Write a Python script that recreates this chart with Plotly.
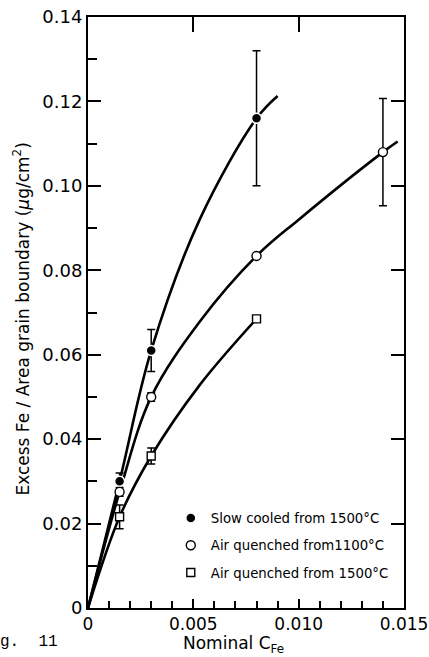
import plotly.graph_objects as go

# ---- data ----
x_pts = [0.0015, 0.003, 0.008]
slow_y = [0.030, 0.061, 0.116]
slow_err = [0.002, 0.005, 0.016]

aq1100_x = [0.0015, 0.003, 0.008, 0.014]
aq1100_y = [0.0275, 0.050, 0.0834, 0.108]
aq1100_err = [0.001, 0.001, 0.0, 0.0127]

aq1500_y = [0.0216, 0.036, 0.0685]
aq1500_err = [0.0028, 0.0019, 0.0]

# fitted curves drawn in the figure
slow_curve_x = [0, 0.0015, 0.003, 0.0053, 0.008, 0.009]
slow_curve_y = [0, 0.030, 0.061, 0.092, 0.116, 0.1213]
aq1100_curve_x = [0, 0.0015, 0.003, 0.0053, 0.008, 0.010, 0.014, 0.0147]
aq1100_curve_y = [0, 0.0275, 0.050, 0.0678, 0.0834, 0.092, 0.108, 0.1105]
aq1500_curve_x = [0, 0.0015, 0.003, 0.0053, 0.008]
aq1500_curve_y = [0, 0.0216, 0.036, 0.0528, 0.0685]

x_tickvals = [0, 0.005, 0.010, 0.015]
x_ticktext = ["0", "0.005", "0.010", "0.015"]
y_tickvals = [0, 0.02, 0.04, 0.06, 0.08, 0.10, 0.12, 0.14]
y_ticktext = ["0", "0.02", "0.04", "0.06", "0.08", "0.10", "0.12", "0.14"]

labels = ["Slow cooled from 1500°C", "Air quenched from1100°C", "Air quenched from 1500°C"]

FONT = "DejaVu Sans"
fig = go.Figure()

for cx, cy in [(slow_curve_x, slow_curve_y), (aq1100_curve_x, aq1100_curve_y), (aq1500_curve_x, aq1500_curve_y)]:
    fig.add_trace(go.Scatter(x=cx, y=cy, mode="lines", line=dict(color="black", width=2.6, shape="spline", smoothing=1.0),
                             showlegend=False, hoverinfo="skip"))

err_style = dict(type="data", color="black", thickness=1.5, width=4)

fig.add_trace(go.Scatter(x=x_pts, y=slow_y, mode="markers", name=labels[0], legendgroup="a",
                         error_y=dict(array=slow_err, **err_style),
                         marker=dict(symbol="circle", size=10, color="black", line=dict(color="white", width=1.5))))
fig.add_trace(go.Scatter(x=aq1100_x, y=aq1100_y, mode="markers", name=labels[1], legendgroup="b",
                         error_y=dict(array=aq1100_err, **err_style),
                         marker=dict(symbol="circle", size=9, color="white", line=dict(color="black", width=1.4))))
fig.add_trace(go.Scatter(x=x_pts, y=aq1500_y, mode="markers", name=labels[2], legendgroup="c",
                         error_y=dict(array=aq1500_err, **err_style),
                         marker=dict(symbol="square", size=8, color="white", line=dict(color="black", width=1.4))))

# invisible trace to hold the mirrored top/right axes
fig.add_trace(go.Scatter(x=[0], y=[0], xaxis="x2", yaxis="y2", mode="markers",
                         marker=dict(opacity=0), showlegend=False, hoverinfo="skip"))

fig.update_layout(
    width=429, height=657,
    margin=dict(l=88, r=25, t=17, b=49, autoexpand=False),
    paper_bgcolor="white", plot_bgcolor="white",
    font=dict(family=FONT, color="black", size=17),
    showlegend=True,
    legend=dict(x=0.262, y=0.178, xanchor="left", yanchor="top", bgcolor="rgba(0,0,0,0)",
                font=dict(size=13.3, family=FONT), tracegroupgap=7, itemwidth=30),
    xaxis=dict(range=[0, 0.015], tickvals=x_tickvals, ticktext=x_ticktext, ticks="inside", ticklen=9,
               tickwidth=1.5, tickcolor="black", showline=True, linecolor="black", linewidth=2,
               showgrid=False, zeroline=False, tickfont=dict(size=17), ticklabeloverflow="allow",
               automargin=False,
               minor=dict(dtick=0.001, ticks="inside", ticklen=7, tickwidth=1.5, tickcolor="black", showgrid=False)),
    yaxis=dict(range=[0, 0.14], tickvals=y_tickvals, ticktext=y_ticktext, ticks="inside", ticklen=13,
               tickwidth=1.5, tickcolor="black", showline=True, linecolor="black", linewidth=2,
               showgrid=False, zeroline=False, tickfont=dict(size=18), ticklabeloverflow="allow",
               automargin=False,
               minor=dict(dtick=0.01, ticks="inside", ticklen=9, tickwidth=1.5, tickcolor="black", showgrid=False)),
    xaxis2=dict(range=[0, 0.015], overlaying="x", side="top", tickvals=[0.005, 0.010], ticks="inside",
                ticklen=15, tickwidth=1.5, tickcolor="black", showticklabels=False, showline=True,
                linecolor="black", linewidth=2, showgrid=False, zeroline=False, automargin=False),
    yaxis2=dict(range=[0, 0.14], overlaying="y", side="right", tickvals=y_tickvals, ticks="inside",
                ticklen=13, tickwidth=1.5, tickcolor="black", showticklabels=False, showline=True,
                linecolor="black", linewidth=2, showgrid=False, zeroline=False, automargin=False),
    annotations=[
        dict(text="Nominal C<sub>Fe</sub>", xref="paper", yref="paper", x=0.46, y=0, xanchor="center",
             yanchor="middle", yshift=-36, showarrow=False, font=dict(size=17, family=FONT)),
        dict(text="Excess Fe / Area grain boundary (<i>μ</i>g/cm<sup>2</sup>)", xref="paper", yref="paper",
             x=0, y=0.488, xanchor="center", yanchor="middle", xshift=-67, textangle=-90, showarrow=False,
             font=dict(size=17, family=FONT)),
        dict(text="g.  11", xref="paper", yref="paper", x=0, y=0, xanchor="left", yanchor="middle",
             xshift=-90, yshift=-34, showarrow=False, font=dict(size=16, family="Liberation Mono")),
    ],
)

fig.write_html("out.html", config={"displayModeBar": False},
               post_script="document.body.style.margin='0';document.body.style.overflow='hidden';")
